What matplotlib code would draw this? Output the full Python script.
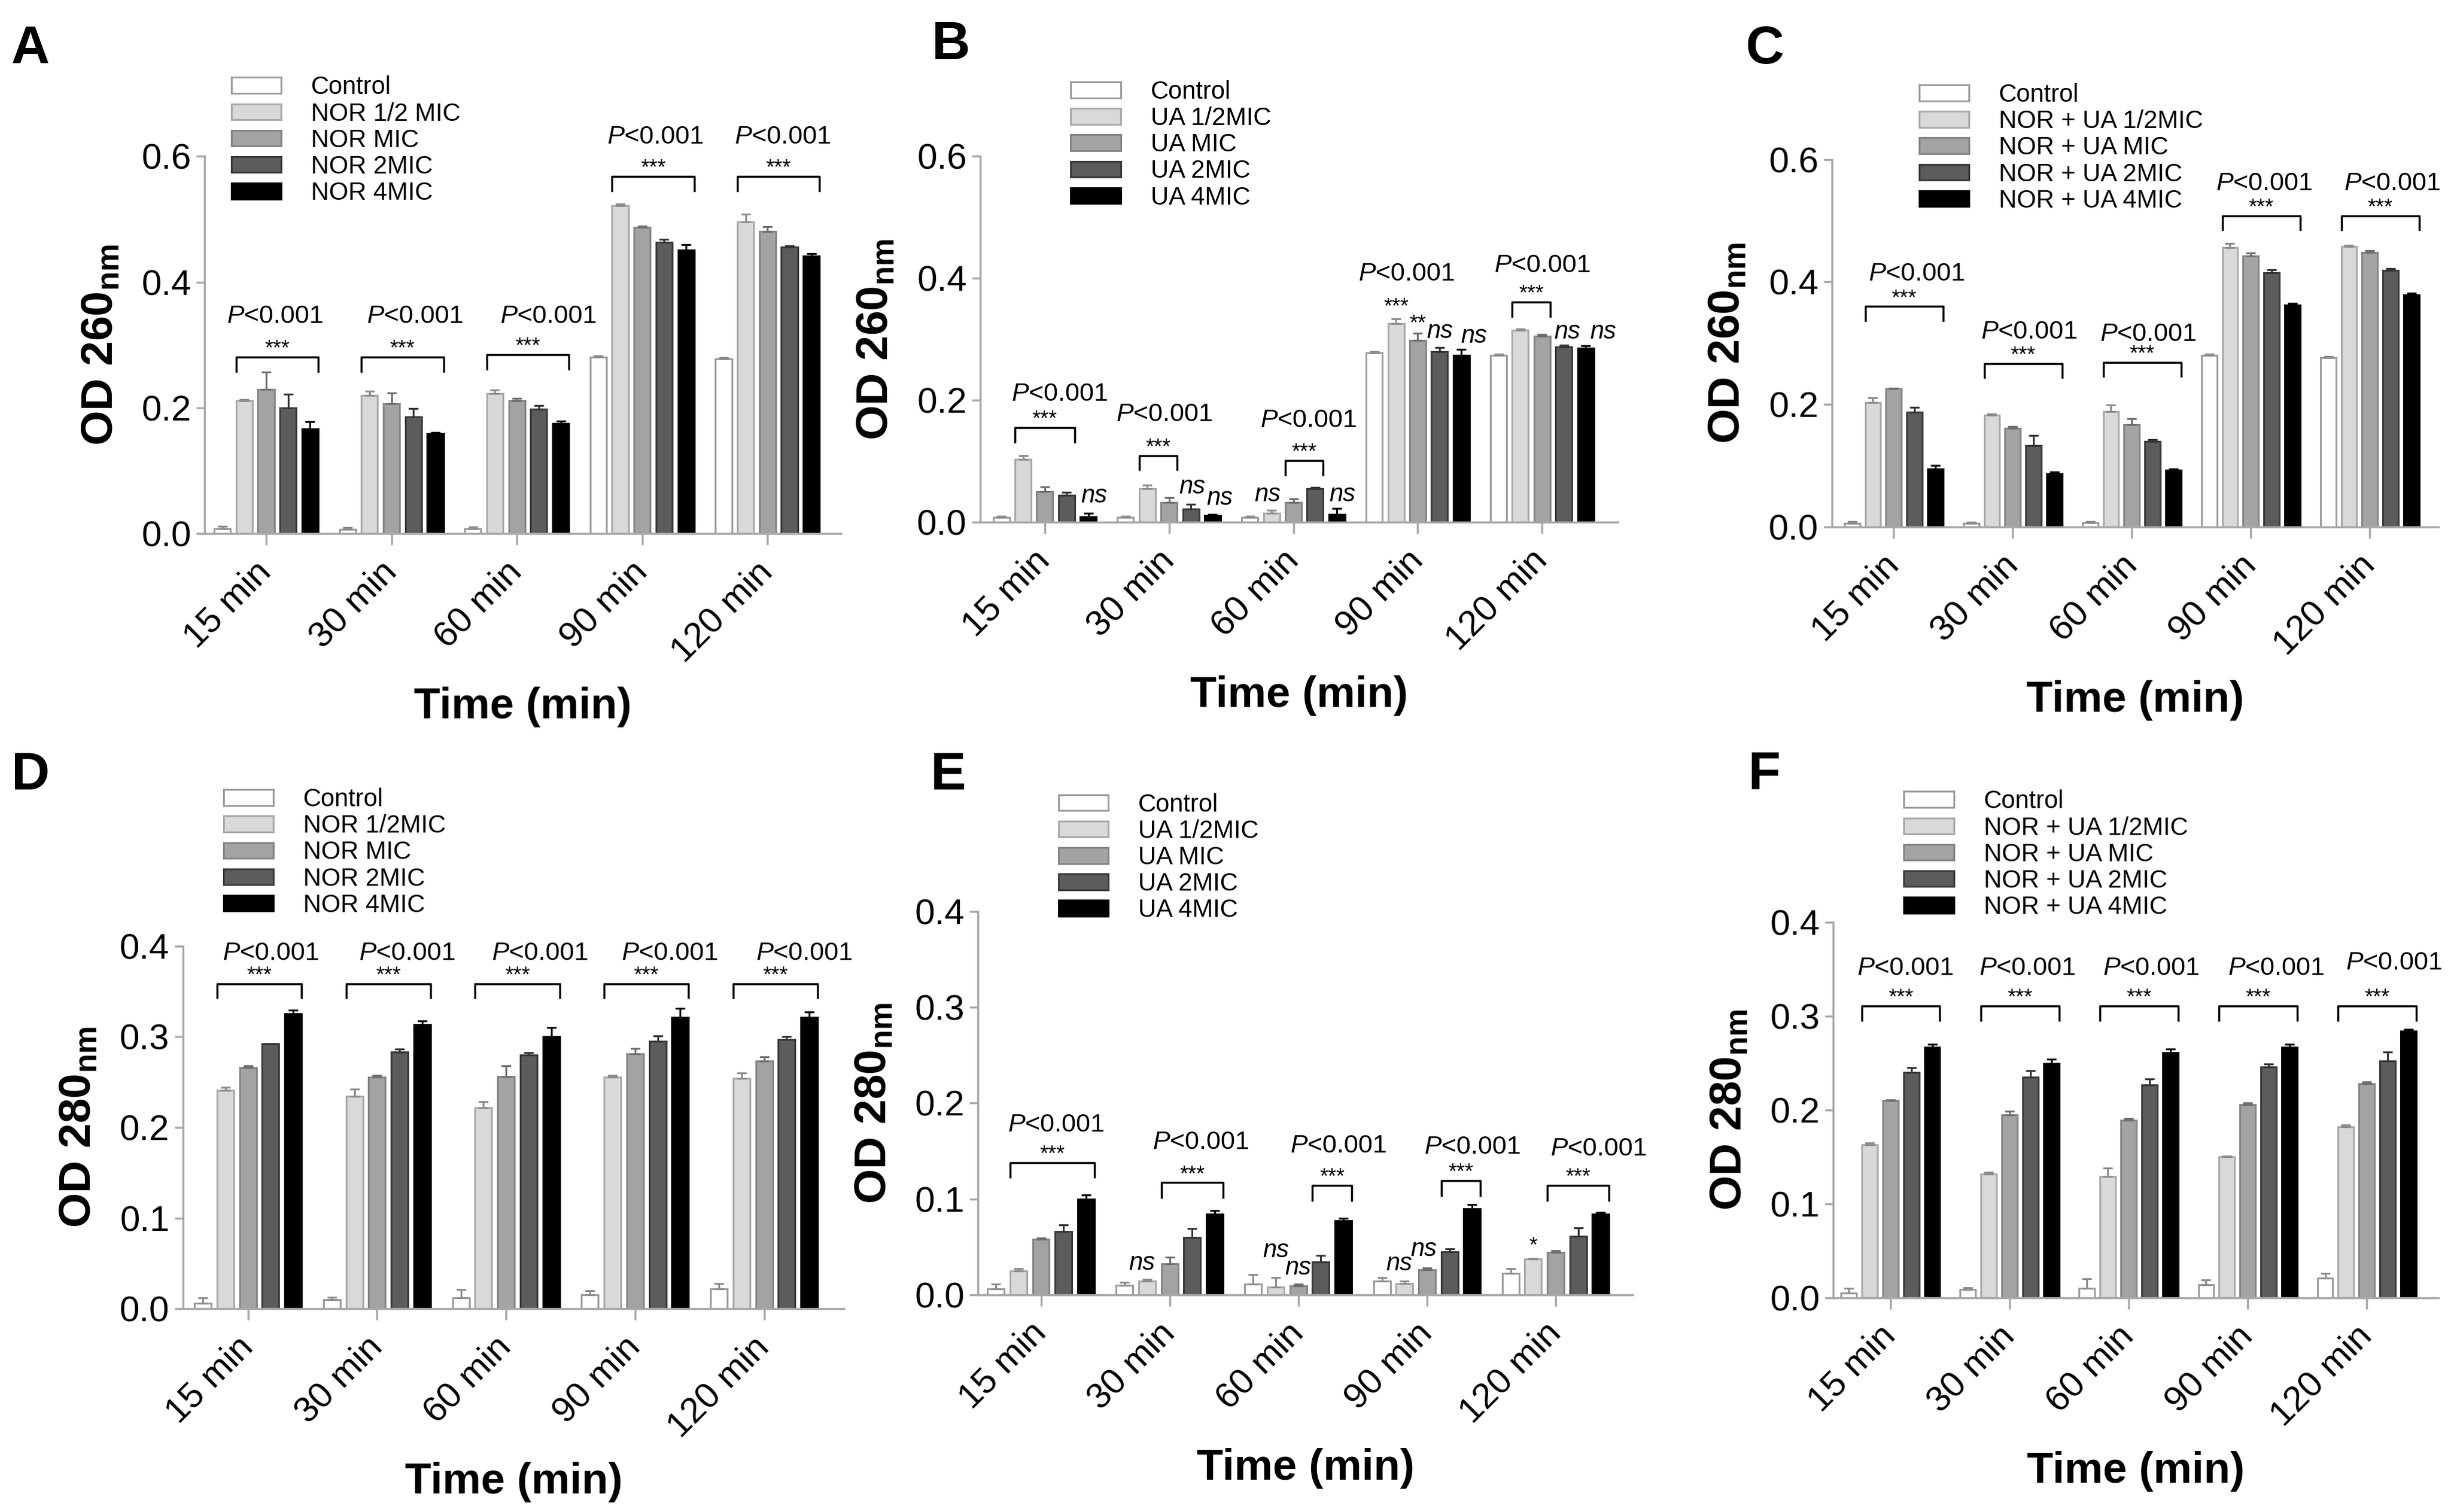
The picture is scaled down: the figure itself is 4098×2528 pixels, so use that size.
import numpy as np
import matplotlib
matplotlib.use('Agg')
import matplotlib.pyplot as plt

plt.rcParams['font.family'] = ['Liberation Sans', 'DejaVu Sans']
plt.rcParams['mathtext.fontset'] = 'custom'
plt.rcParams['mathtext.rm'] = 'Liberation Sans'
plt.rcParams['mathtext.it'] = 'Liberation Sans:italic'
plt.rcParams['mathtext.bf'] = 'Liberation Sans:bold'

times = ['15 min', '30 min', '60 min', '90 min', '120 min']

labels_nor = ['Control', 'NOR 1/2 MIC', 'NOR MIC', 'NOR 2MIC', 'NOR 4MIC']
labels_nor2 = ['Control', 'NOR 1/2MIC', 'NOR MIC', 'NOR 2MIC', 'NOR 4MIC']
labels_ua = ['Control', 'UA 1/2MIC', 'UA MIC', 'UA 2MIC', 'UA 4MIC']
labels_mix = ['Control', 'NOR + UA 1/2MIC', 'NOR + UA MIC', 'NOR + UA 2MIC', 'NOR + UA 4MIC']

# rows: Control, 1/2MIC, MIC, 2MIC, 4MIC ; columns: times
mean_a = [[0.008, 0.007, 0.008, 0.281, 0.278],
          [0.211, 0.220, 0.223, 0.521, 0.496],
          [0.230, 0.207, 0.211, 0.487, 0.481],
          [0.200, 0.186, 0.198, 0.463, 0.456],
          [0.167, 0.159, 0.175, 0.451, 0.442]]
err_a = [[0.004, 0.003, 0.003, 0.002, 0.002],
         [0.002, 0.007, 0.006, 0.003, 0.012],
         [0.027, 0.017, 0.004, 0.002, 0.007],
         [0.022, 0.013, 0.006, 0.005, 0.002],
         [0.011, 0.002, 0.004, 0.009, 0.003]]

mean_b = [[0.008, 0.008, 0.008, 0.278, 0.274],
          [0.103, 0.055, 0.015, 0.326, 0.315],
          [0.050, 0.033, 0.033, 0.298, 0.305],
          [0.044, 0.022, 0.055, 0.280, 0.288],
          [0.009, 0.011, 0.013, 0.274, 0.286]]
err_b = [[0.002, 0.002, 0.002, 0.002, 0.002],
         [0.006, 0.006, 0.005, 0.008, 0.002],
         [0.008, 0.007, 0.005, 0.012, 0.003],
         [0.005, 0.008, 0.002, 0.007, 0.002],
         [0.006, 0.002, 0.010, 0.010, 0.003]]

mean_c = [[0.006, 0.006, 0.007, 0.280, 0.276],
          [0.203, 0.183, 0.189, 0.456, 0.458],
          [0.226, 0.161, 0.167, 0.442, 0.448],
          [0.188, 0.133, 0.140, 0.415, 0.419],
          [0.095, 0.087, 0.093, 0.362, 0.379]]
err_c = [[0.003, 0.002, 0.002, 0.002, 0.002],
         [0.008, 0.002, 0.010, 0.007, 0.002],
         [0.001, 0.003, 0.010, 0.005, 0.003],
         [0.007, 0.016, 0.003, 0.005, 0.003],
         [0.006, 0.003, 0.002, 0.003, 0.003]]

mean_d = [[0.006, 0.010, 0.012, 0.015, 0.022],
          [0.241, 0.234, 0.222, 0.255, 0.254],
          [0.266, 0.255, 0.256, 0.281, 0.273],
          [0.292, 0.283, 0.280, 0.295, 0.297],
          [0.325, 0.313, 0.300, 0.321, 0.321]]
err_d = [[0.006, 0.003, 0.009, 0.005, 0.006],
         [0.003, 0.008, 0.006, 0.002, 0.006],
         [0.002, 0.002, 0.012, 0.006, 0.005],
         [0.000, 0.003, 0.002, 0.006, 0.003],
         [0.004, 0.004, 0.010, 0.010, 0.006]]

mean_e = [[0.006, 0.010, 0.011, 0.014, 0.022],
          [0.025, 0.014, 0.008, 0.012, 0.037],
          [0.058, 0.032, 0.009, 0.026, 0.044],
          [0.066, 0.060, 0.034, 0.045, 0.061],
          [0.100, 0.084, 0.077, 0.090, 0.084]]
err_e = [[0.005, 0.003, 0.010, 0.004, 0.005],
         [0.002, 0.002, 0.010, 0.002, 0.001],
         [0.001, 0.007, 0.002, 0.002, 0.002],
         [0.007, 0.009, 0.007, 0.003, 0.009],
         [0.004, 0.004, 0.003, 0.004, 0.002]]

mean_f = [[0.005, 0.009, 0.010, 0.014, 0.021],
          [0.163, 0.132, 0.129, 0.150, 0.182],
          [0.210, 0.195, 0.189, 0.206, 0.228],
          [0.240, 0.235, 0.227, 0.246, 0.252],
          [0.267, 0.250, 0.261, 0.267, 0.284]]
err_f = [[0.005, 0.002, 0.010, 0.005, 0.005],
         [0.002, 0.002, 0.009, 0.001, 0.002],
         [0.001, 0.004, 0.002, 0.002, 0.002],
         [0.005, 0.007, 0.006, 0.003, 0.010],
         [0.003, 0.004, 0.004, 0.003, 0.002]]

# significance brackets: (time index, first bar, last bar, bracket height)
brackets_a = [(0, 1, 4, 0.281), (1, 1, 4, 0.281), (2, 1, 4, 0.285), (3, 1, 4, 0.568), (4, 1, 4, 0.568)]
brackets_b = [(0, 1, 3, 0.155), (1, 1, 2, 0.109), (2, 2, 3, 0.101), (4, 1, 2, 0.361)]
brackets_c = [(0, 1, 4, 0.360), (1, 1, 4, 0.267), (2, 1, 4, 0.269), (3, 1, 4, 0.508), (4, 1, 4, 0.508)]
brackets_d = [(0, 1, 4, 0.358), (1, 1, 4, 0.358), (2, 1, 4, 0.358), (3, 1, 4, 0.358), (4, 1, 4, 0.358)]
brackets_e = [(0, 1, 4, 0.138), (1, 2, 4, 0.117), (2, 3, 4, 0.114), (3, 3, 4, 0.119), (4, 2, 4, 0.114)]
brackets_f = [(0, 1, 4, 0.311), (1, 1, 4, 0.311), (2, 1, 4, 0.311), (3, 1, 4, 0.311), (4, 1, 4, 0.311)]

# "P<0.001" labels: (time index, shift from group centre, height)
pvals_a = [(0, 0.07, 0.350), (1, 0.185, 0.350), (2, 0.25, 0.350), (3, 0.105, 0.635), (4, 0.12, 0.635)]
pvals_b = [(0, 0.12, 0.214), (1, -0.04, 0.181), (2, 0.12, 0.171), (3, -0.09, 0.412), (4, 0.0, 0.425)]
pvals_c = [(0, 0.19, 0.418), (1, 0.135, 0.323), (2, 0.135, 0.319), (3, 0.11, 0.565), (4, 0.19, 0.565)]
pvals_d = [(0, 0.175, 0.395), (1, 0.235, 0.395), (2, 0.26, 0.395), (3, 0.27, 0.395), (4, 0.31, 0.395)]
pvals_e = [(0, 0.115, 0.180), (1, 0.24, 0.162), (2, 0.31, 0.158), (3, 0.35, 0.157), (4, 0.335, 0.155)]
pvals_f = [(0, 0.125, 0.354), (1, 0.15, 0.354), (2, 0.19, 0.354), (3, 0.24, 0.354), (4, 0.23, 0.360)]

# marks over single bars: (time index, bar, text, height, shift)
marks_b = [(0, 4, 'ns', 0.043, 0.045), (1, 3, 'ns', 0.058, 0.01), (1, 4, 'ns', 0.039, 0.055),
           (2, 1, 'ns', 0.045, -0.035), (2, 4, 'ns', 0.045, 0.045), (3, 1, '***', 0.363, 0.0),
           (3, 2, '**', 0.336, 0.0), (3, 3, 'ns', 0.313, 0.0), (3, 4, 'ns', 0.305, 0.10),
           (4, 3, 'ns', 0.312, 0.025), (4, 4, 'ns', 0.312, 0.14)]
marks_e = [(1, 1, 'ns', 0.033, -0.04), (2, 1, 'ns', 0.046, 0.0), (2, 2, 'ns', 0.028, 0.0),
           (3, 1, 'ns', 0.032, -0.04), (3, 2, 'ns', 0.047, -0.025), (4, 1, '*', 0.057, 0.0)]

fills = ['white', '#d9d9d9', '#a3a3a3', '#5c5c5c', 'black']
edges = ['#9c9c9c', '#a9a9a9', '#858585', '#3a3a3a', 'black']
errc = ['#8c8c8c', '#8c8c8c', '#6e6e6e', '#333333', 'black']
axis_gray = '#a8a8a8'

TICK = 43
LEG = 30
PFS = 31
STAR = 26
NSFS = 30
pitch = 0.175
width = 0.13


def panel(rect, letter, letter_xy, means, errs, labels, ymax, ystep, yname, xlim, leg_xy,
          brackets, pvals, marks=()):
    ax = fig.add_axes(rect)
    means = np.array(means)
    errs = np.array(errs)
    x = np.arange(len(times))
    for i in range(5):
        xi = x + (i - 2) * pitch
        ax.bar(xi, means[i], width, color=fills[i], edgecolor=edges[i], linewidth=2.2,
               label=labels[i], zorder=2)
        ax.errorbar(xi, means[i], yerr=[np.zeros(5), errs[i]], fmt='none', ecolor=errc[i],
                    elinewidth=2.2, capsize=6, capthick=2.2, zorder=3)
    ax.set_xlim(*xlim)
    ax.set_ylim(0, ymax)
    ax.set_yticks(np.arange(0, ymax + 1e-9, ystep))
    ax.set_yticklabels(['%.1f' % v for v in np.arange(0, ymax + 1e-9, ystep)])
    ax.set_xticks(x)
    ax.set_xticklabels(times, rotation=45, ha='right', va='center', rotation_mode='anchor')
    for s in ['top', 'right']:
        ax.spines[s].set_visible(False)
    for s in ['left', 'bottom']:
        ax.spines[s].set_color(axis_gray)
        ax.spines[s].set_linewidth(2.5)
    ax.tick_params(axis='y', colors=axis_gray, labelcolor='black', labelsize=TICK,
                   length=10, width=2.5, pad=6)
    ax.tick_params(axis='x', colors=axis_gray, labelcolor='black', labelsize=TICK,
                   length=14, width=2.5, pad=26)
    ax.set_ylabel(r'OD %s$_{\mathbf{nm}}$' % yname, fontsize=54, fontweight='bold', labelpad=24)
    ax.set_xlabel('Time (min)', fontsize=52, fontweight='bold', labelpad=22)

    leg = 0.023 * ymax / 0.6
    for g, i0, i1, ytop in brackets:
        xa = g + (i0 - 2) * pitch - width / 2
        xb = g + (i1 - 2) * pitch + width / 2
        ax.plot([xa, xa, xb, xb], [ytop - leg, ytop, ytop, ytop - leg], color='black',
                lw=2.5, clip_on=False, zorder=4)
        ax.annotate('***', xy=((xa + xb) / 2, ytop), xytext=(0, 2), textcoords='offset points',
                    ha='center', va='baseline', fontsize=STAR, annotation_clip=False)
    for g, dx, yp in pvals:
        ax.annotate(r'$\it{P}$<0.001', xy=(g + dx, yp), xytext=(0, -0.36 * PFS),
                    textcoords='offset points', ha='center', va='baseline', fontsize=PFS,
                    annotation_clip=False)
    for g, i, txt, ym, dx in marks:
        xm = g + (i - 2) * pitch + dx
        if txt == 'ns':
            ax.annotate(txt, xy=(xm, ym), xytext=(0, -0.26 * NSFS),
                        textcoords='offset points', ha='center', va='baseline', fontsize=NSFS,
                        style='italic', annotation_clip=False)
        else:
            ax.annotate(txt, xy=(xm, ym), xytext=(0, -0.58 * STAR),
                        textcoords='offset points', ha='center', va='baseline', fontsize=STAR,
                        annotation_clip=False)

    ax.legend(loc='upper left', bbox_to_anchor=leg_xy, bbox_transform=fig.transFigure,
              frameon=False, fontsize=LEG, handlelength=2.0, handleheight=0.6,
              handletextpad=1.2, labelspacing=0.1, borderpad=0, borderaxespad=0)
    fig.text(letter_xy[0], letter_xy[1], letter, fontsize=64, fontweight='bold',
             ha='center', va='center')
    return ax


fig = plt.figure(figsize=(40.98, 25.28), dpi=100)

panel([0.0835, 0.647, 0.2596, 0.2496], 'A', (0.0125, 0.967), mean_a, err_a, labels_nor,
      0.6, 0.2, '260', (-0.49, 4.585), (0.0944, 0.950), brackets_a, pvals_a)
panel([0.3999, 0.6546, 0.2602, 0.2420], 'B', (0.388, 0.970), mean_b, err_b, labels_ua,
      0.6, 0.2, '260', (-0.52, 4.61), (0.4369, 0.947), brackets_b, pvals_b, marks_b)
panel([0.7474, 0.6515, 0.2474, 0.2430], 'C', (0.720, 0.967), mean_c, err_c, labels_mix,
      0.6, 0.2, '260', (-0.52, 4.575), (0.783, 0.945), brackets_c, pvals_c)
panel([0.0746, 0.1344, 0.2698, 0.2400], 'D', (0.0125, 0.487), mean_d, err_d, labels_nor2,
      0.4, 0.1, '280', (-0.505, 4.62), (0.0912, 0.479), brackets_d, pvals_d)
panel([0.3990, 0.1437, 0.2672, 0.2534], 'E', (0.387, 0.487), mean_e, err_e, labels_ua,
      0.4, 0.1, '280', (-0.49, 4.60), (0.4318, 0.4756), brackets_e, pvals_e, marks_e)
panel([0.7480, 0.1417, 0.2468, 0.2482], 'F', (0.720, 0.487), mean_f, err_f, labels_mix,
      0.4, 0.1, '280', (-0.48, 4.60), (0.7768, 0.4777), brackets_f, pvals_f)

fig.savefig('out.png', dpi=100)
